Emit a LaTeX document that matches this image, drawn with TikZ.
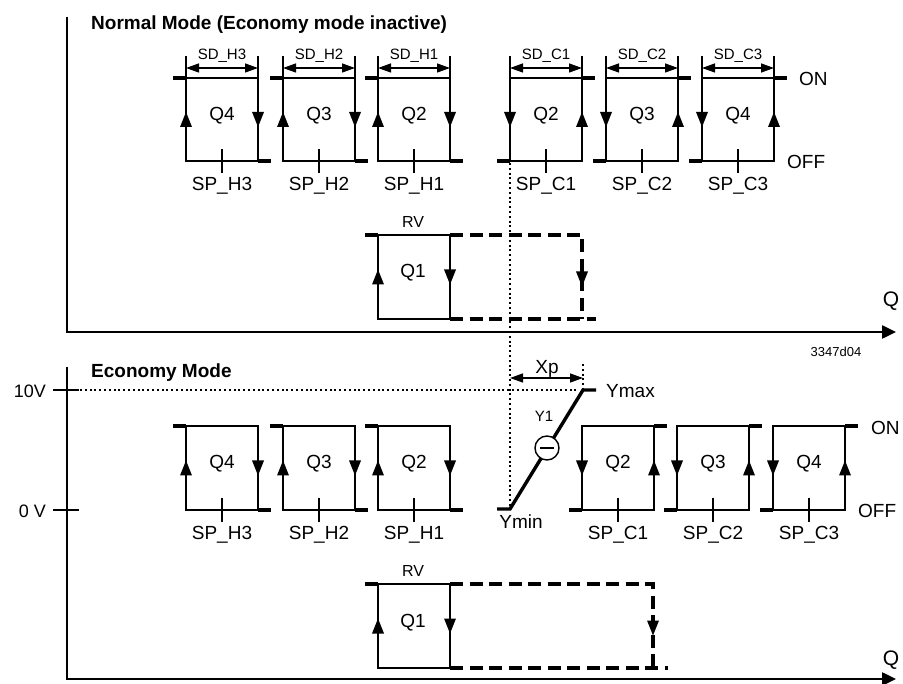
\documentclass[tikz,border=0pt]{standalone}
\usepackage{fontspec}
\setmainfont{Liberation Sans}
\usetikzlibrary{arrows.meta}
\newcommand{\arrU}[2]{\fill ({#1-6},{#2+7.5}) -- ({#1+6},{#2+7.5}) -- ({#1},{#2-7.5}) -- cycle;}
\newcommand{\arrD}[2]{\fill ({#1-6},{#2-7.5}) -- ({#1+6},{#2-7.5}) -- ({#1},{#2+7.5}) -- cycle;}
% heating loop: xL, ytop, ybot, Q label, SP label, name
\newcommand{\heatloop}[6]{%
 \pgfmathsetmacro\ym{(#2+#3)/2}%
 \pgfmathsetmacro\xr{#1+72}%
 \pgfmathsetmacro\xc{#1+36}%
 \draw[boxline] (#1,#2) rectangle (\xr,#3);
 \draw[stubline] ({#1-13},#2) -- (#1,#2);
 \draw[stubline] (\xr,#3) -- ({\xr+13},#3);
 \arrU{#1}{\ym}
 \arrD{\xr}{\ym}
 \draw[tickline] (\xc,{#3-12}) -- (\xc,{#3+12});
 \node[lbl] (#6q) at (\xc,{\ym-6}) {#4};
 \node[lbl] (#6sp) at (\xc,{#3+23}) {#5};
}
% cooling loop
\newcommand{\coolloop}[6]{%
 \pgfmathsetmacro\ym{(#2+#3)/2}%
 \pgfmathsetmacro\xr{#1+72}%
 \pgfmathsetmacro\xc{#1+36}%
 \draw[boxline] (#1,#2) rectangle (\xr,#3);
 \draw[stubline] (\xr,#2) -- ({\xr+13},#2);
 \draw[stubline] ({#1-13},#3) -- (#1,#3);
 \arrD{#1}{\ym}
 \arrU{\xr}{\ym}
 \draw[tickline] (\xc,{#3-12}) -- (\xc,{#3+12});
 \node[lbl] (#6q) at (\xc,{\ym-6}) {#4};
 \node[lbl] (#6sp) at (\xc,{#3+23}) {#5};
}
% switching differential dimension
\newcommand{\sddim}[3]{%
 \pgfmathsetmacro\xr{#1+72}%
 \pgfmathsetmacro\xc{#1+36}%
 \draw[thinline] (#1,56) -- (#1,78) (\xr,56) -- (\xr,78);
 \draw[dimarr] (#1,68) -- (\xr,68);
 \node[slbl] (#3) at (\xc,54) {#2};
}
\begin{document}
\begin{tikzpicture}[x=1pt,y=-1pt,
 boxline/.style={line width=2.9pt},
 stubline/.style={line width=4.6pt},
 tickline/.style={line width=1.9pt},
 thinline/.style={line width=1.2pt},
 axisline/.style={line width=2.5pt},
 dashln/.style={line width=3.3pt,dash pattern=on 13pt off 6.5pt},
 dotln/.style={line width=2.3pt,dash pattern=on 2pt off 2.8pt},
 dimarr/.style={line width=1.3pt,{Triangle[length=13pt,width=9pt]}-{Triangle[length=13pt,width=9pt]}},
 lbl/.style={font=\fontsize{19}{22}\selectfont,inner sep=0pt,text height=13.6pt,text depth=0pt},
 slbl/.style={font=\fontsize{15}{18}\selectfont,inner sep=0pt,text height=10.7pt,text depth=0pt},
 ttl/.style={font=\fontsize{19}{22}\selectfont\bfseries,inner sep=0pt,anchor=base west},
 qlbl/.style={font=\fontsize{21}{24}\selectfont,inner sep=0pt,text height=15pt,text depth=0pt}
]
\useasboundingbox (0,0) rectangle (903,684);

% ---------- upper panel: Normal mode ----------
\draw[axisline,-{Triangle[length=14pt,width=13pt]}] (67,17) -- (67,332) -- (896,332);
\node[ttl] (t1) at (91,30) {Normal Mode (Economy mode inactive)};
\node[qlbl] (q1ax) at (891,299) {Q};
\node[font=\fontsize{13}{15}\selectfont,inner sep=0pt] (code) at (836,352) {3347d04};

\heatloop{186}{78}{161}{Q4}{SP\_H3}{uh3}
\heatloop{283}{78}{161}{Q3}{SP\_H2}{uh2}
\heatloop{378}{78}{161}{Q2}{SP\_H1}{uh1}
\coolloop{510}{78}{161}{Q2}{SP\_C1}{uc1}
\coolloop{606}{78}{161}{Q3}{SP\_C2}{uc2}
\coolloop{702}{78}{161}{Q4}{SP\_C3}{uc3}
\sddim{186}{SD\_H3}{sdh3}
\sddim{283}{SD\_H2}{sdh2}
\sddim{378}{SD\_H1}{sdh1}
\sddim{510}{SD\_C1}{sdc1}
\sddim{606}{SD\_C2}{sdc2}
\sddim{702}{SD\_C3}{sdc3}
\node[lbl,anchor=west] (on1) at (799,79) {ON};
\node[lbl,anchor=west] (off1) at (787,162) {OFF};

% Q1 (upper)
\draw[boxline] (378,235) rectangle (450,319);
\draw[stubline] (365,235) -- (378,235);
\draw[dashln] (450,235) -- (582,235) -- (582,319);
\draw[dashln] (450,319) -- (596,319);
\arrU{378}{277}
\arrD{450}{277}
\arrD{582}{279}
\node[slbl,font=\fontsize{16}{18}\selectfont,text height=11.5pt] (rv1) at (413,222) {RV};
\node[lbl] (uq1) at (413,271) {Q1};

% dotted guide from SP_C1 to Ymin
\draw[dotln] (510,163) -- (510,509);

% ---------- lower panel: Economy mode ----------
\draw[axisline,-{Triangle[length=14pt,width=13pt]}] (67,367) -- (67,679) -- (896,679);
\node[ttl] (t2) at (91,378) {Economy Mode};
\node[qlbl] (q2ax) at (891,658) {Q};
\draw[axisline] (53,390) -- (79,390);
\draw[axisline] (53,510) -- (79,510);
\node[lbl,font=\fontsize{18}{20}\selectfont,anchor=east] (v10) at (46,391) {10V};
\node[lbl,font=\fontsize{18}{20}\selectfont,anchor=east] (v0) at (46,511) {0 V};
\draw[dotln] (80,390) -- (576,390);

\heatloop{186}{426}{510}{Q4}{SP\_H3}{lh3}
\heatloop{283}{426}{510}{Q3}{SP\_H2}{lh2}
\heatloop{378}{426}{510}{Q2}{SP\_H1}{lh1}
\coolloop{582}{426}{510}{Q2}{SP\_C1}{lc1}
\coolloop{677}{426}{510}{Q3}{SP\_C2}{lc2}
\coolloop{773}{426}{510}{Q4}{SP\_C3}{lc3}
\node[lbl,anchor=west] (on2) at (871,428) {ON};
\node[lbl,anchor=west] (off2) at (858,511) {OFF};

% Y1 ramp
\coordinate (ymin) at (510,509);
\coordinate (ymax) at (583,390);
\draw[line width=3.4pt] (497,509) -- (ymin) -- (ymax) -- (596,390);
\node[circle,draw,fill=white,line width=1.4pt,minimum size=24pt,inner sep=0pt] (neg) at (547,448) {};
\draw[line width=2.8pt] ([xshift=-7pt]neg.center) -- ([xshift=7pt]neg.center);
\node[slbl,font=\fontsize{15}{18}\selectfont] (y1) at (544,416) {Y1};
\node[lbl,anchor=west] (ymaxl) at (606,391) {Ymax};
\node[lbl] (yminl) at (521,522) {Ymin};
% Xp
\draw[dotln] (583,364) -- (ymax);
\draw[dimarr] (510,378) -- (583,378);
\node[lbl] (xp) at (547,367) {Xp};

% Q1 (lower)
\draw[boxline] (378,584) rectangle (450,668);
\draw[stubline] (365,584) -- (378,584);
\draw[dashln] (450,584) -- (653,584) -- (653,668);
\draw[dashln] (450,668) -- (668,668);
\arrU{378}{626}
\arrD{450}{626}
\arrD{653}{628}
\node[slbl,font=\fontsize{16}{18}\selectfont,text height=11.5pt] (rv2) at (413,571) {RV};
\node[lbl] (lq1) at (413,621) {Q1};
\end{tikzpicture}
\end{document}
